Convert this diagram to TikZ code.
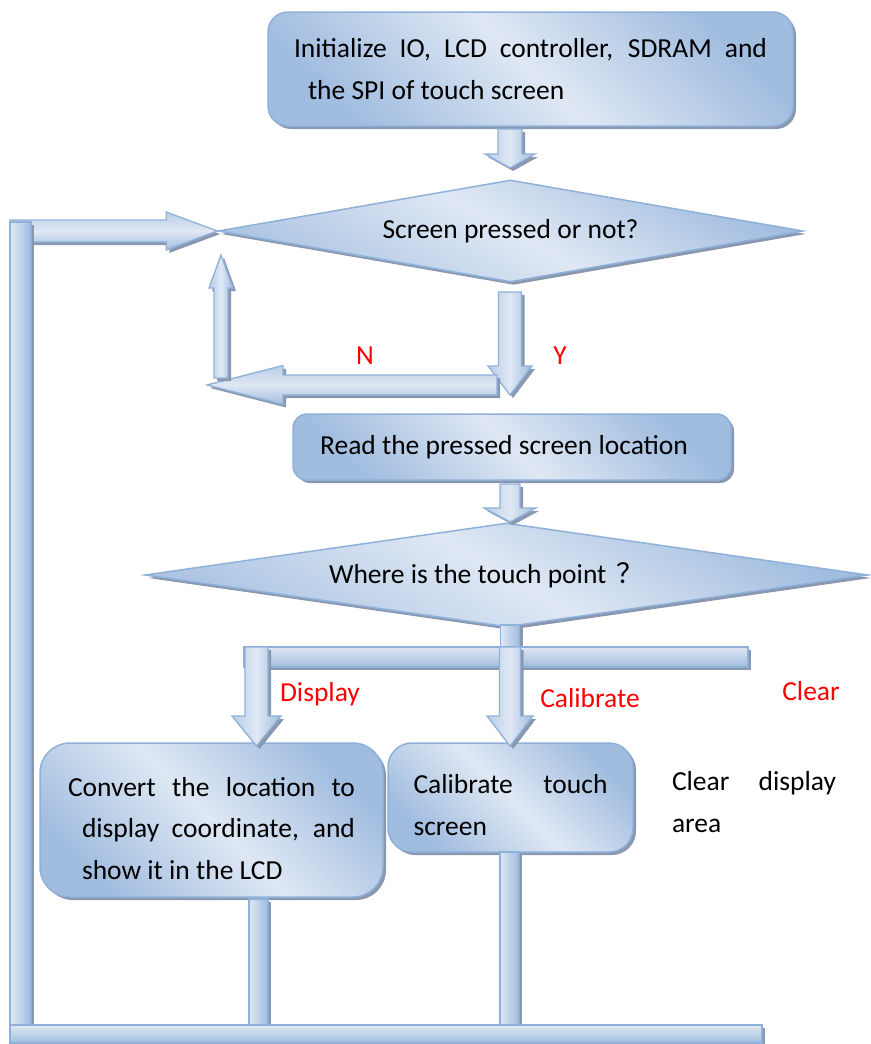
\documentclass[tikz,border=0pt]{standalone}
\usepackage{fontspec}
\setmainfont{Carlito}
\newfontfamily\cjk{Noto Sans CJK SC}
\usetikzlibrary{shapes.geometric,shadows,calc}
\definecolor{bdr}{RGB}{143,176,216}
\definecolor{dk}{RGB}{160,188,223}
\definecolor{lt}{RGB}{223,232,244}
\definecolor{shd}{RGB}{138,152,175}
\tikzset{
  shad/.style={drop shadow={shadow xshift=3pt,shadow yshift=-3pt,fill=shd,opacity=1}},
  txt/.style={font=\fontsize{27.5}{41.5}\selectfont, inner sep=0pt, align=left},
  lbl/.style={font=\fontsize{27.5}{41}\selectfont, inner sep=0pt, text=red},
  boxstyle/.style={rectangle, draw=bdr, line width=1.5pt, shad,
     top color=dk, bottom color=dk, middle color=lt, shading angle=-45,
     inner sep=0pt, font=\fontsize{27.5}{41.5}\selectfont, align=left},
  dia/.style={diamond, draw=bdr, line width=1.5pt, shad,
     top color=dk, bottom color=dk!80!lt, middle color=lt, shading angle=-30,
     inner sep=0pt, font=\fontsize{27.5}{41}\selectfont},
  blk/.style={draw=bdr, line width=1.3pt, shad, line join=miter},
  pipev/.style={blk, left color=lt, right color=dk},
  pipeh/.style={blk, top color=lt, bottom color=dk},
  arrv/.style={blk, left color=dk!60!lt, right color=dk, middle color=lt},
  arrh/.style={blk, top color=dk!60!lt, bottom color=dk, middle color=lt},
}
% block arrows: #1 start, #2 tip, #3 shaft half width, #4 head half width, #5 head length
\newcommand\arrdown[5]{\path[arrv] let \p1=(#1), \p2=(#2) in
  (\x1-#3pt,\y1) -- (\x1+#3pt,\y1) -- (\x1+#3pt,\y2+#5pt) -- (\x1+#4pt,\y2+#5pt)
  -- (\x1,\y2) -- (\x1-#4pt,\y2+#5pt) -- (\x1-#3pt,\y2+#5pt) -- cycle;}
\newcommand\arrup[5]{\path[arrv] let \p1=(#1), \p2=(#2) in
  (\x1-#3pt,\y1) -- (\x1+#3pt,\y1) -- (\x1+#3pt,\y2-#5pt) -- (\x1+#4pt,\y2-#5pt)
  -- (\x1,\y2) -- (\x1-#4pt,\y2-#5pt) -- (\x1-#3pt,\y2-#5pt) -- cycle;}
\newcommand\arrleft[5]{\path[arrh] let \p1=(#1), \p2=(#2) in
  (\x1,\y1+#3pt) -- (\x1,\y1-#3pt) -- (\x2+#5pt,\y1-#3pt) -- (\x2+#5pt,\y1-#4pt)
  -- (\x2,\y1) -- (\x2+#5pt,\y1+#4pt) -- (\x2+#5pt,\y1+#3pt) -- cycle;}
\newcommand\arrright[5]{\path[arrh] let \p1=(#1), \p2=(#2) in
  (\x1,\y1+#3pt) -- (\x1,\y1-#3pt) -- (\x2-#5pt,\y1-#3pt) -- (\x2-#5pt,\y1-#4pt)
  -- (\x2,\y1) -- (\x2-#5pt,\y1+#4pt) -- (\x2-#5pt,\y1+#3pt) -- cycle;}
\begin{document}
\begin{tikzpicture}[x=1pt,y=-1pt]
\useasboundingbox (0,0) rectangle (870,1044);

% ---------- nodes ----------
\node[boxstyle, rounded corners=20pt, minimum width=525pt, minimum height=114pt] (init) at (530.5,69)
  {\makebox[473pt][s]{Initialize IO, LCD controller, SDRAM and}\\\hspace*{14pt}the SPI of touch screen};
\node[dia, aspect=5.735, minimum width=585pt, minimum height=102pt] (q1) at (510.5,231) {Screen pressed or not?};
\node[boxstyle, rounded corners=14pt, minimum width=438pt, minimum height=66pt] (read) at (512,447)
  {Read the pressed screen location\hspace*{16pt}};
\node[dia, aspect=6.95, minimum width=723pt, minimum height=104pt] (q2) at (506.5,575)
  {Where is the touch point\hspace{10pt}{\cjk ？}\hspace*{40pt}};
\node[boxstyle, rounded corners=30pt, minimum width=343pt, minimum height=154pt] (conv) at (211.5,820)
  {\rule{0pt}{36pt}\makebox[287pt][s]{Convert the location to}\\
   \hspace*{14pt}\makebox[273pt][s]{display coordinate, and}\\
   \hspace*{14pt}show it in the LCD};
\node[boxstyle, rounded corners=24pt, minimum width=245pt, minimum height=109pt] (cal) at (510.5,797.5)
  {\rule{0pt}{34pt}\makebox[194pt][s]{Calibrate touch}\\screen};
\node[txt] (clr) at (754,802) {\makebox[164pt][s]{Clear display}\\area};

\node[lbl] (lN) at (365,356) {N};
\node[lbl] (lY) at (560,356) {Y};
\node[lbl] (lD) at (320,694) {Display};
\node[lbl] (lC) at (590,698) {Calibrate};
\node[lbl] (lCl) at (811,691) {Clear};

% ---------- coordinates ----------
\coordinate (a1s) at (510,129);
\coordinate (a1t) at (510,168);
\coordinate (ys)  at (510,292);
\coordinate (yt)  at (510,395);
\coordinate (ns)  at (497,385);
\coordinate (nt)  at (207,385);
\coordinate (us)  at (221,378);
\coordinate (ut)  at (221,255);
\coordinate (loopS) at (10,231);
\coordinate (a2s) at (510,484);
\coordinate (a2t) at (510,522);
\coordinate (ds)  at (256.5,647);
\coordinate (dt)  at (256.5,746);
\coordinate (cs)  at (510,647);
\coordinate (ct)  at (510,746);
\coordinate (stubA) at (500.5,625);
\coordinate (stubB) at (519.5,650);
\coordinate (brA) at (244,647);
\coordinate (brB) at (748,667);
\coordinate (lpA) at (10,222);
\coordinate (lpB) at (31,1043);
\coordinate (p3A) at (249,899);
\coordinate (p3B) at (268,1028);
\coordinate (p4A) at (500,852);
\coordinate (p4B) at (519,1025);
\coordinate (bbA) at (10,1025);
\coordinate (bbB) at (762,1043);

% ---------- connectors ----------
\arrright{loopS}{q1.west}{11}{19}{51}
\path[pipev] (lpA) rectangle (lpB);
\path[pipev] (p3A) rectangle (p3B);
\path[pipev] (p4A) rectangle (p4B);
\path[pipeh] (bbA) rectangle (bbB);
\arrdown{a1s}{a1t}{12}{25}{14}
\arrdown{ys}{yt}{11.5}{22}{29}
\arrleft{ns}{nt}{10}{19.5}{76}
\arrup{us}{ut}{7}{12}{33}
\arrdown{a2s}{a2t}{10}{26}{14}
\path[pipev] (stubA) rectangle (stubB);
\path[pipeh] (brA) rectangle (brB);
\arrdown{ds}{dt}{11.5}{24.5}{30}
\arrdown{cs}{ct}{10.5}{23}{30}
\end{tikzpicture}
\end{document}
